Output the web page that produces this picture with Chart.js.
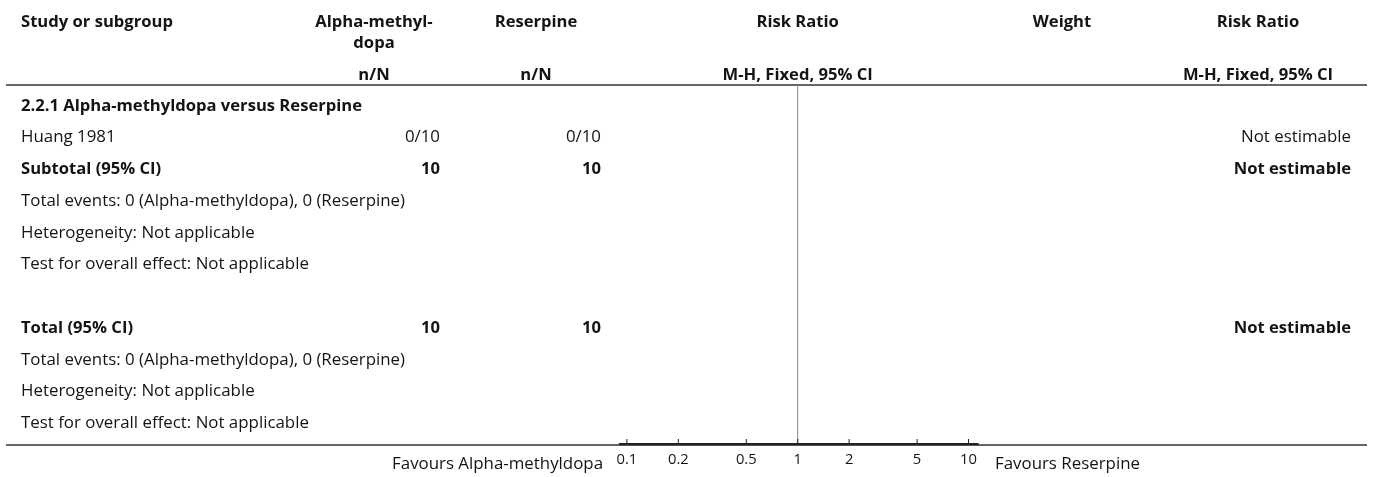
<!DOCTYPE html>
<html>
<head>
<meta charset="utf-8">
<script src="https://cdn.jsdelivr.net/npm/chart.js@4/dist/chart.umd.min.js"></script>
<style>
html,body{margin:0;padding:0;background:#fff;}
#wrap{width:1373px;height:477px;position:relative;}
canvas{display:block;}
</style>
</head>
<body>
<div id="wrap"><canvas id="c" width="1373" height="477"></canvas></div>
<script>
// ---- data ----
const headerCols = ["Study or subgroup", "Alpha-methyl-", "Reserpine", "Risk Ratio", "Weight", "Risk Ratio"];
const headerSub = ["dopa"];
const headerUnits = ["n/N", "n/N", "M-H, Fixed, 95% CI", "M-H, Fixed, 95% CI"];
const subgroupTitle = "2.2.1 Alpha-methyldopa versus Reserpine";
const studies = ["Huang 1981"];
const eventsAlpha = ["0/10"];
const eventsReserpine = ["0/10"];
const studyRR = ["Not estimable"];
const subtotalN = [10, 10];
const totalN = [10, 10];
const pooledRR = ["Not estimable", "Not estimable"];
const summaryLines = ["Total events: 0 (Alpha-methyldopa), 0 (Reserpine)", "Heterogeneity: Not applicable", "Test for overall effect: Not applicable"];
const tickValues = [0.1, 0.2, 0.5, 1, 2, 5, 10];
const tickLabels = ["0.1", "0.2", "0.5", "1", "2", "5", "10"];
const favoursLeft = "Favours Alpha-methyldopa";
const favoursRight = "Favours Reserpine";

const FONT = '"Open Sans"';
const INK = '#141414';
const BASE = 16;

const forestPlugin = {
  id: 'forest',
  afterDraw(chart) {
    const ctx = chart.ctx;
    const xs = chart.scales.x;
    const ca = chart.chartArea;
    ctx.save();
    ctx.font = BASE + 'px ' + FONT;
    const sxN = 384 / ctx.measureText(summaryLines[0]).width;
    ctx.font = 'bold ' + BASE + 'px ' + FONT;
    const sxB = 341 / ctx.measureText(subgroupTitle).width;
    ctx.restore();

    function txt(s, x, y, align, bold, size) {
      size = size || BASE;
      ctx.save();
      ctx.font = (bold ? 'bold ' : '') + size + 'px ' + FONT;
      ctx.fillStyle = INK;
      const sx = bold ? sxB : sxN;
      const w = ctx.measureText(s).width * sx;
      let left = x;
      if (align === 'center') left = x - w / 2;
      else if (align === 'right') left = x - w;
      ctx.translate(left, y);
      ctx.scale(sx, 1);
      ctx.textAlign = 'left';
      ctx.textBaseline = 'alphabetic';
      ctx.fillText(s, 0, 0);
      ctx.restore();
    }
    function line(x1, y1, x2, y2, w, c) {
      ctx.save();
      ctx.strokeStyle = c; ctx.lineWidth = w;
      ctx.beginPath(); ctx.moveTo(x1, y1); ctx.lineTo(x2, y2); ctx.stroke();
      ctx.restore();
    }

    const xL = 21, colA = 440, colB = 601, colRR = 1351;
    const cA = 374, cB = 536, cW = 1062, cRR2 = 1258;
    const cRR = xs.getPixelForValue(1);

    // header
    txt(headerCols[0], xL, 27, 'left', true);
    txt(headerCols[1], cA, 27, 'center', true);
    txt(headerSub[0], cA, 47.5, 'center', true);
    txt(headerCols[2], cB, 27, 'center', true);
    txt(headerCols[3], cRR, 27, 'center', true);
    txt(headerCols[4], cW, 27, 'center', true);
    txt(headerCols[5], cRR2, 27, 'center', true);
    txt(headerUnits[0], cA, 80, 'center', true);
    txt(headerUnits[1], cB, 80, 'center', true);
    txt(headerUnits[2], cRR, 80, 'center', true);
    txt(headerUnits[3], cRR2, 80, 'center', true);

    // rows
    const rowY = k => 105 + 31.75 * k + 5.7;
    let k = 0;
    txt(subgroupTitle, xL, rowY(k), 'left', true); k++;
    studies.forEach((s, i) => {
      txt(s, xL, rowY(k), 'left', false);
      txt(eventsAlpha[i], colA, rowY(k), 'right', false);
      txt(eventsReserpine[i], colB, rowY(k), 'right', false);
      txt(studyRR[i], colRR, rowY(k), 'right', false);
      k++;
    });
    txt("Subtotal (95% CI)", xL, rowY(k), 'left', true);
    txt(String(subtotalN[0]), colA, rowY(k), 'right', true);
    txt(String(subtotalN[1]), colB, rowY(k), 'right', true);
    txt(pooledRR[0], colRR, rowY(k), 'right', true);
    k++;
    summaryLines.forEach(s => { txt(s, xL, rowY(k), 'left', false); k++; });
    k++;
    txt("Total (95% CI)", xL, rowY(k), 'left', true);
    txt(String(totalN[0]), colA, rowY(k), 'right', true);
    txt(String(totalN[1]), colB, rowY(k), 'right', true);
    txt(pooledRR[1], colRR, rowY(k), 'right', true);
    k++;
    summaryLines.forEach(s => { txt(s, xL, rowY(k), 'left', false); k++; });

    // rules
    line(6, 85, 1367, 85, 1.6, '#333');
    line(6, 445, 1367, 445, 1.4, '#333');

    // axis
    const x0 = xs.getPixelForValue(tickValues[0]);
    const x1 = xs.getPixelForValue(tickValues[tickValues.length - 1]);
    line(cRR, 86, cRR, ca.bottom, 1, '#8a8a8a');
    line(x0 - 8, 444.2, x1 + 10, 444.2, 2.2, '#222');
    tickValues.forEach((v, i) => {
      const px = xs.getPixelForValue(v);
      line(px, 439, px, 444, 1, '#222');
      txt(tickLabels[i], px, 464, 'center', false, 14);
    });
    txt(favoursLeft, 603, 469, 'right', false);
    txt(favoursRight, 995, 469, 'left', false);
  }
};

new Chart(document.getElementById('c'), {
  type: 'scatter',
  data: { datasets: [{ data: [], pointRadius: 0 }] },
  options: {
    responsive: false,
    animation: false,
    devicePixelRatio: 1,
    layout: { padding: { left: 626.9, right: 1373 - 968.5, top: 85, bottom: 477 - 444 } },
    plugins: { legend: { display: false }, tooltip: { enabled: false } },
    scales: {
      x: { type: 'logarithmic', min: 0.1, max: 10, display: false },
      y: { type: 'linear', min: 0, max: 1, display: false }
    }
  },
  plugins: [forestPlugin]
});
</script>
</body>
</html>
